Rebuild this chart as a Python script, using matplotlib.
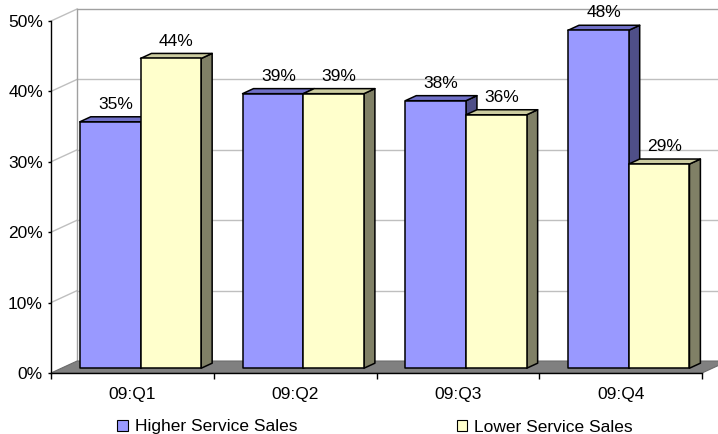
import matplotlib
matplotlib.use("Agg")
import matplotlib.pyplot as plt
from matplotlib.patches import Polygon, Patch
from matplotlib.ticker import FuncFormatter

categories = ["09:Q1", "09:Q2", "09:Q3", "09:Q4"]
higher_service = [35, 39, 38, 48]
lower_service = [44, 39, 36, 29]
series_names = ["Higher Service Sales", "Lower Service Sales"]
y_ticks = [0, 10, 20, 30, 40, 50]

# face colours: front, top, side
BLUE = ("#9999FF", "#7070C8", "#4F4F88")
YELLOW = ("#FFFFCC", "#CCCCA0", "#808066")

# oblique depth of the floor in data units, and the bars' slice of it
DX, DY = 0.16, 1.7
D0, D1 = 0.40, 0.82
BAR_W = 0.373
BAR_OFF = 0.113
GRID = "#BFBFBF"
WALL = "#A0A0A0"

plt.rcParams["font.family"] = ["Liberation Sans", "DejaVu Sans"]
plt.rcParams["font.size"] = 12.5

fig = plt.figure(figsize=(7.18, 4.34), dpi=100)
ax = fig.add_axes([51 / 718, (434 - 373) / 434, 651 / 718, 352 / 434])
ax.set_xlim(0, len(categories))
ax.set_ylim(0, y_ticks[-1])
ax.patch.set_alpha(0)

n = len(categories)

# back wall: gridlines, frame, and diagonals from the front axis
for v in y_ticks[1:]:
    ax.plot([DX, n + DX], [v + DY, v + DY], color=GRID if v < y_ticks[-1] else WALL,
            lw=1, clip_on=False, zorder=1)
    ax.plot([0, DX], [v, v + DY], color=GRID, lw=1, clip_on=False, zorder=1)
ax.plot([DX, DX], [DY, y_ticks[-1] + DY], color=WALL, lw=1, clip_on=False, zorder=1)

# floor
floor = Polygon([(0, 0), (n, 0), (n + DX, DY), (DX, DY)], closed=True,
                facecolor="#808080", edgecolor="#6A6A6A", lw=0.8, clip_on=False, zorder=2)
ax.add_patch(floor)


def draw_bar(x0, value, colors):
    fx = x0 + D0 * DX
    fy = D0 * DY
    ddx = (D1 - D0) * DX
    ddy = (D1 - D0) * DY
    front = [(fx, fy), (fx + BAR_W, fy), (fx + BAR_W, fy + value), (fx, fy + value)]
    side = [(fx + BAR_W, fy), (fx + BAR_W + ddx, fy + ddy),
            (fx + BAR_W + ddx, fy + value + ddy), (fx + BAR_W, fy + value)]
    top = [(fx, fy + value), (fx + BAR_W, fy + value),
           (fx + BAR_W + ddx, fy + value + ddy), (fx + ddx, fy + value + ddy)]
    for pts, col in zip((side, top, front), (colors[2], colors[1], colors[0])):
        ax.add_patch(Polygon(pts, closed=True, facecolor=col, edgecolor="black",
                             lw=1.1, joinstyle="round", clip_on=False, zorder=3))
    ax.annotate(f"{value}%", xy=(fx + BAR_W / 2 + ddx / 2, value + D1 * DY),
                xytext=(0, 3.5), textcoords="offset points", ha="center", va="bottom",
                annotation_clip=False, zorder=4)


for i in range(n):
    draw_bar(i + BAR_OFF, higher_service[i], BLUE)
    draw_bar(i + BAR_OFF + BAR_W, lower_service[i], YELLOW)

# axes
for side in ("top", "right"):
    ax.spines[side].set_visible(False)
ax.spines["left"].set_color("black")
ax.spines["bottom"].set_color("black")
ax.spines["left"].set_linewidth(1)
ax.spines["bottom"].set_linewidth(1)

ax.set_yticks(y_ticks)
ax.yaxis.set_major_formatter(FuncFormatter(lambda v, _: f"{v:.0f}%"))
ax.tick_params(axis="y", length=2.2, width=1, pad=3.6, colors="black")

ax.set_xticks([i + 0.5 for i in range(n)])
ax.set_xticklabels(categories)
ax.set_xticks(range(n + 1), minor=True)
ax.tick_params(axis="x", which="major", length=0, pad=10)
ax.tick_params(axis="x", which="minor", length=4, width=1, colors="black")

handles = [Patch(facecolor=BLUE[0], edgecolor="black", lw=0.8),
           Patch(facecolor=YELLOW[0], edgecolor="black", lw=0.8)]
fig.legend(handles, series_names, loc="center", ncol=2, frameon=False,
           bbox_to_anchor=(375 / 718, 1 - 427 / 434),
           handlelength=0.6, handleheight=0.6, handletextpad=0.4, columnspacing=9.2)

fig.savefig("out.png", dpi=100)
